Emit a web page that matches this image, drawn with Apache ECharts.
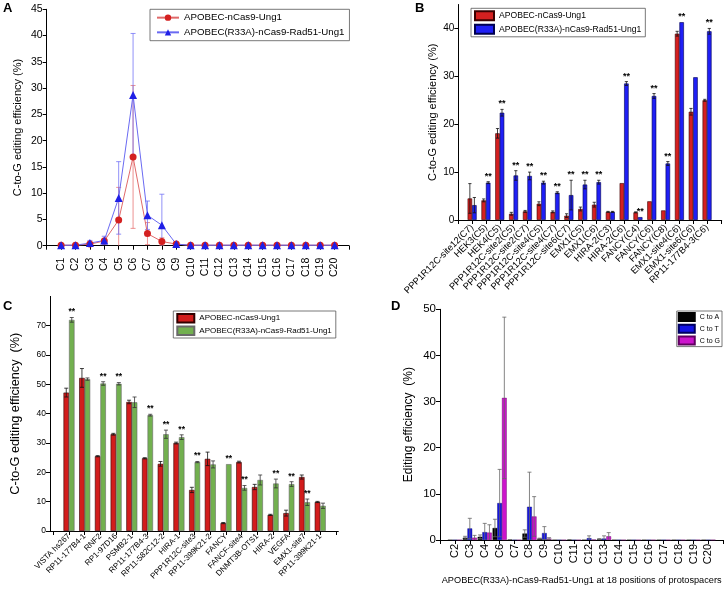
<!DOCTYPE html>
<html><head><meta charset="utf-8">
<script src="https://cdn.jsdelivr.net/npm/echarts@6/dist/echarts.min.js"></script>
<style>html,body{margin:0;padding:0;background:#fff}#c{width:726px;height:590px}</style>
</head><body><div id="c"></div>
<script>
// ---------- Panel A ----------
const catA = ['C1','C2','C3','C4','C5','C6','C7','C8','C9','C10','C11','C12','C13','C14','C15','C16','C17','C18','C19','C20'];
const aRed     = [0.1,0.1,0.3,0.9,4.9,16.9,2.3,0.8,0.3,0.1,0.1,0.1,0.1,0.1,0.1,0.1,0.1,0.1,0.1,0.1];
const aRedErr  = [0.1,0.1,0.3,0.5,6.2,13.6,2.1,0.7,0.2,0.05,0.05,0.05,0.05,0.05,0.05,0.05,0.05,0.05,0.05,0.05];
const aBlue    = [0.1,0.1,0.5,1.0,9.1,28.7,5.8,3.9,0.3,0.1,0.1,0.1,0.1,0.1,0.1,0.1,0.1,0.1,0.1,0.1];
const aBlueErr = [0.1,0.1,0.5,0.8,6.9,11.7,2.7,5.9,0.2,0.05,0.05,0.05,0.05,0.05,0.05,0.05,0.05,0.05,0.05,0.05];
const yTicksA = [0,5,10,15,20,25,30,35,40,45];

// ---------- Panel B ----------
const catB = ['PPP1R12C-site12(C7)','HEK3(C5)','HEK4(C5)','PPP1R12C-site2(C5)','PPP1R12C-site2(C7)','PPP1R12C-site4(C5)','PPP1R12C-site4(C7)','PPP1R12C-site6(C7)','EMX1(C5)','EMX1(C6)','HIRA-2(C3)','HIRA-2(C6)','FANCY(C4)','FANCY(C6)','FANCY(C8)','EMX1-site4(C6)','EMX1-site6(C6)','RP11-177B4-3(C6)'];
const bRed     = [4.5,4.1,18.1,1.3,1.8,3.4,1.7,0.9,2.3,3.2,1.7,7.7,1.6,3.9,2.0,38.9,22.6,25.0];
const bRedErr  = [3.1,0.3,1.0,0.3,0.2,0.4,0.2,0.4,0.4,0.5,0.1,0,0.1,0,0,0.5,0.7,0.2];
const bBlue    = [3.1,7.8,22.4,9.3,9.2,7.8,5.7,5.2,7.4,7.9,1.7,28.5,0.6,25.9,11.8,41.3,29.8,39.4];
const bBlueErr = [1.6,0.2,0.7,1.0,0.8,0.3,0.2,3.1,0.9,0.4,0.1,0.4,0,0.5,0.4,0,0,0.6];
const bSig     = [0,1,1,1,1,1,1,1,1,1,0,1,1,1,1,1,0,1];
const yTicksB = [0,10,20,30,40];

// ---------- Panel C ----------
const catC = ['VISTA hs267','RP11-177B4-1','RNF2','RP1-97D16','PSMB2-1','RP11-177B4-3','RP11-582C12-2','HIRA-1','PPP1R12C-site3','RP11-399K21-2','FANCY','FANCF-site4','DNMT3B-OTS1','HIRA-2','VEGFA','EMX1-site7','RP11-399K21-1'];
const cRed      = [47.2,52.2,25.5,33.0,44.0,24.8,22.9,30.0,14.0,24.6,2.7,23.5,15.0,5.5,6.1,18.4,9.9];
const cRedErr   = [1.5,3.2,0.2,0.3,0.6,0.2,0.8,0.3,0.9,2.3,0.2,0.3,0.9,0.2,1.0,0.7,0.2];
const cGreen    = [72.0,51.8,50.3,50.2,43.9,39.5,33.0,32.0,23.5,22.7,22.8,14.7,17.4,16.2,16.0,9.8,8.6];
const cGreenErr = [0.8,0.4,0.6,0.4,1.8,0.3,1.4,0.8,0.2,1.2,0,0.8,1.7,1.5,0.8,1.1,0.9];
const cSig      = [1,0,1,1,0,1,1,1,1,0,1,1,0,1,1,1,0];
const yTicksC = [0,10,20,30,40,50,60,70];

// ---------- Panel D ----------
const catD = ['C2','C3','C4','C6','C7','C8','C9','C10','C11','C12','C13','C14','C15','C16','C17','C18','C19','C20'];
const dToA    = [0,0.5,0.7,2.6,0.1,1.4,0.3,0,0.1,0,0.2,0,0,0,0,0,0,0];
const dToAErr = [0,0.3,0.4,1.9,0,0.8,0.1,0,0,0,0.1,0,0,0,0,0,0,0];
const dToT    = [0,2.5,1.7,8.0,0,7.2,1.5,0,0,0.4,0.3,0,0,0,0,0,0,0];
const dToTErr = [0,2.2,1.9,7.3,0,7.5,1.4,0,0,0.5,0.6,0,0,0,0,0,0,0];
const dToG    = [0,0.5,1.6,30.8,0,5.1,0.3,0,0,0.1,0.8,0,0,0,0,0,0,0];
const dToGErr = [0,0.5,1.7,17.5,0,4.3,0.2,0,0,0,0.8,0,0,0,0,0,0,0];
const yTicksD = [0,10,20,30,40,50];

const FONT = "'Liberation Sans', Arial, Helvetica, sans-serif";
const legendNames = {
  aR:'APOBEC-nCas9-Ung1', aB:'APOBEC(R33A)-nCas9-Rad51-Ung1',
  bR:'APOBEC-nCas9-Ung1', bB:'APOBEC(R33A)-nCas9-Rad51-Ung1',
  cR:'APOBEC-nCas9-Ung1', cG:'APOBEC(R33A)-nCas9-Rad51-Ung1',
  dK:'C to A', dB:'C to T', dM:'C to G'
};
const range = (a,b)=>{const r=[];for(let i=a;i<=b;i++)r.push(i);return r;};
const idx = arr => arr.map((v,i)=>[i+1,v]);

function xAx(grid, min, max, cats, rotate, fs, margin, z, extra) {
  return Object.assign({
    gridIndex: grid, type:'value', min:min, max:max, z:z||0,
    splitLine:{show:false},
    axisLine:{onZero:false, lineStyle:{color:'#000', width:1}},
    axisTick:{show:true, customValues: range(0, cats.length+1), length:4, lineStyle:{color:'#000'}},
    axisLabel:{customValues: range(1, cats.length), rotate:rotate, fontSize:fs, margin:margin, color:'#000', fontFamily:FONT,
      formatter: v => cats[Math.round(v)-1] || ''}
  }, extra||{});
}
function yAx(grid, max, ticks, name, nameFs, nameGap, fs, z) {
  return {
    gridIndex: grid, type:'value', min:0, max:max, z:z||0,
    splitLine:{show:false},
    axisLine:{show:true, onZero:false, lineStyle:{color:'#000', width:1}},
    axisTick:{show:true, customValues:ticks, length:4, lineStyle:{color:'#000'}},
    axisLabel:{customValues:ticks, fontSize:fs, color:'#000', margin:4, fontFamily:FONT},
    name:name, nameLocation:'middle', nameGap:nameGap,
    nameTextStyle:{fontSize:nameFs, color:'#000', fontFamily:FONT}
  };
}
function bar(name, gi, vals, color, border, w, z, bw) {
  return {name:name, type:'bar', xAxisIndex:gi, yAxisIndex:gi, data:idx(vals), barWidth:w, barGap:'0%',
    itemStyle:{color:color, borderColor:border, borderWidth:bw==null?0.6:bw}, z:z||2, silent:true, animation:false};
}
function err(gi, vals, errs, offset, color, cap, lw, z) {
  return {type:'custom', xAxisIndex:gi, yAxisIndex:gi, z:z||4, silent:true, animation:false, clip:false,
    data: vals.map((v,i)=>[i+1, v, errs[i]]),
    renderItem:(p, api)=>{
      const x=api.value(0), v=api.value(1), e=api.value(2);
      if(!(e>0)) return null;
      const hi = api.coord([x, v+e]);
      const loV = v-e;
      const lo = api.coord([x, Math.max(loV,0)]);
      const cx = hi[0]+offset;
      const st = {stroke:color, lineWidth:lw};
      const ch = [
        {type:'line', shape:{x1:cx,y1:hi[1],x2:cx,y2:lo[1]}, style:st},
        {type:'line', shape:{x1:cx-cap,y1:hi[1],x2:cx+cap,y2:hi[1]}, style:st}
      ];
      if (loV>0) ch.push({type:'line', shape:{x1:cx-cap,y1:lo[1],x2:cx+cap,y2:lo[1]}, style:st});
      return {type:'group', children:ch};
    }};
}
function sig(gi, vals, errs, flags, offset, fs) {
  return {type:'custom', xAxisIndex:gi, yAxisIndex:gi, z:6, silent:true, animation:false, clip:false,
    data: vals.map((v,i)=>[i+1, v+(errs[i]||0), flags[i]]),
    renderItem:(p, api)=>{
      if(!api.value(2)) return null;
      const pt = api.coord([api.value(0), api.value(1)]);
      return {type:'text', x:pt[0]+offset, y:pt[1]-1,
        style:{text:'**', fontSize:fs, fill:'#000', align:'center', verticalAlign:'bottom', fontFamily:FONT, fontWeight:'bold'}};
    }};
}
function leg(data, pos, fs, iw, ih, gap, icon, z) {
  const l = {data:data, orient:'vertical', itemWidth:iw, itemHeight:ih, itemGap:gap, itemTextGap:3,
    padding:[2,4,2,3], borderColor:'#555', borderWidth:0.8, backgroundColor:'#fff', selectedMode:false, z:z||4,
    formatter: n => legendNames[n], textStyle:{fontSize:fs, color:'#000', fontFamily:FONT, lineHeight:fs+1}};
  if (icon) l.icon = icon;
  return Object.assign(l, pos);
}

const chart = echarts.init(document.getElementById('c'), null, {renderer:'canvas'});
const option = {
  animation:false,
  textStyle:{fontFamily:FONT},
  grid:[
    {left:46.7, right:377, top:9.3, bottom:344.3, outerBoundsMode:'none'},
    {left:458.3, right:4.3, top:4.5, bottom:370, outerBoundsMode:'none'},
    {left:50, right:387.7, top:296.4, bottom:59, outerBoundsMode:'none'},
    {left:440, right:2.7, top:309.3, bottom:50, outerBoundsMode:'none'}
  ],
  xAxis:[
    xAx(0, 0, 21, catA, 90, 10.5, 12),
    xAx(1, 0, 19.06, catB, 45, 9.3, 6),
    xAx(2, -0.21, 18.15, catC, 45, 8, 4),
    xAx(3, 0, 19, catD, 90, 11, 4, 3, {name:'APOBEC(R33A)-nCas9-Rad51-Ung1 at 18 positions of protospacers',
      nameLocation:'middle', nameGap:36, nameTextStyle:{fontSize:9.2, color:'#000', fontFamily:FONT}})
  ],
  yAxis:[
    yAx(0, 45, yTicksA, 'C-to-G editing efficiency (%)', 11, 23, 10.5),
    yAx(1, 45, yTicksB, 'C-to-G editing efficiency (%)', 11, 20, 10),
    yAx(2, 80, yTicksC, 'C-to-G editing efficiency  (%)', 12.7, 28, 8.5),
    yAx(3, 50, yTicksD, 'Editing efficiency  (%)', 12, 25, 11.5, 3)
  ],
  legend:[
    Object.assign(leg(['aR','aB'], {left:150, top:9.3}, 9.7, 22, 8, 4), {padding:[3,5,3,6]}),
    leg(['bR','bB'], {left:471, top:8.3}, 8.6, 19, 9, 2.5, 'rect'),
    leg(['cR','cG'], {left:173.3, top:311}, 8, 17, 8.5, 2, 'rect'),
    Object.assign(leg(['dK','dB','dM'], {right:4, top:311}, 7, 16, 8, 1.8, 'rect', 6), {padding:[1,2,1,1], itemTextGap:2})
  ],
  series:[
    // A
    err(0, aRed, aRedErr, 0, 'rgba(230,110,110,0.75)', 2.5, 1, 1),
    err(0, aBlue, aBlueErr, 0, 'rgba(110,110,245,0.75)', 2.5, 1, 1),
    {name:'aR', type:'line', xAxisIndex:0, yAxisIndex:0, data:idx(aRed), symbol:'circle', symbolSize:7,
      lineStyle:{color:'#e06a6a', width:1}, itemStyle:{color:'#d42020'}, z:3, silent:true},
    {name:'aB', type:'line', xAxisIndex:0, yAxisIndex:0, data:idx(aBlue), symbol:'triangle', symbolSize:8,
      lineStyle:{color:'#6a6af2', width:1}, itemStyle:{color:'#1f1fe6'}, z:3, silent:true},
    // B
    bar('bR', 1, bRed, '#d42020', '#3a0000', 4.5),
    bar('bB', 1, bBlue, '#1f1ff5', '#000050', 4.5),
    err(1, bRed, bRedErr, -2.25, '#111', 1.6, 0.8),
    err(1, bBlue, bBlueErr, 2.25, '#111', 1.6, 0.8),
    sig(1, bBlue, bBlueErr, bSig, 2.25, 9),
    // C
    bar('cR', 2, cRed, '#d21c1c', '#300000', 5.5),
    bar('cG', 2, cGreen, '#72b04f', '#6a6a6a', 5.5),
    err(2, cRed, cRedErr, -2.75, '#111', 2, 0.8),
    err(2, cGreen, cGreenErr, 2.75, '#333', 2, 0.8),
    sig(2, cGreen, cGreenErr, cSig, 2.75, 8.5),
    // D
    bar('dK', 3, dToA, '#000000', '#000', 4.7, 3, 0.4),
    bar('dB', 3, dToT, '#1414e6', '#000060', 4.7, 3, 0.4),
    bar('dM', 3, dToG, '#cc14cc', '#600060', 4.7, 3, 0.4),
    err(3, dToA, dToAErr, -4.7, '#666', 2, 0.8, 4),
    err(3, dToT, dToTErr, 0, '#666', 2, 0.8, 4),
    err(3, dToG, dToGErr, 4.7, '#666', 2, 0.8, 4)
  ],
  graphic:{elements:[
    {type:'rect', shape:{x:360, y:295, width:366, height:295}, style:{fill:'#fff'}, z:1, silent:true},
    {type:'text', x:3, y:2, z:10, style:{text:'A', fontSize:13, fontWeight:'bold', fill:'#000', fontFamily:FONT}},
    {type:'text', x:415, y:2, z:10, style:{text:'B', fontSize:13, fontWeight:'bold', fill:'#000', fontFamily:FONT}},
    {type:'text', x:3, y:300, z:10, style:{text:'C', fontSize:13, fontWeight:'bold', fill:'#000', fontFamily:FONT}},
    {type:'text', x:391, y:300, z:10, style:{text:'D', fontSize:13, fontWeight:'bold', fill:'#000', fontFamily:FONT}}
  ]}
};
chart.setOption(option);
</script></body></html>
